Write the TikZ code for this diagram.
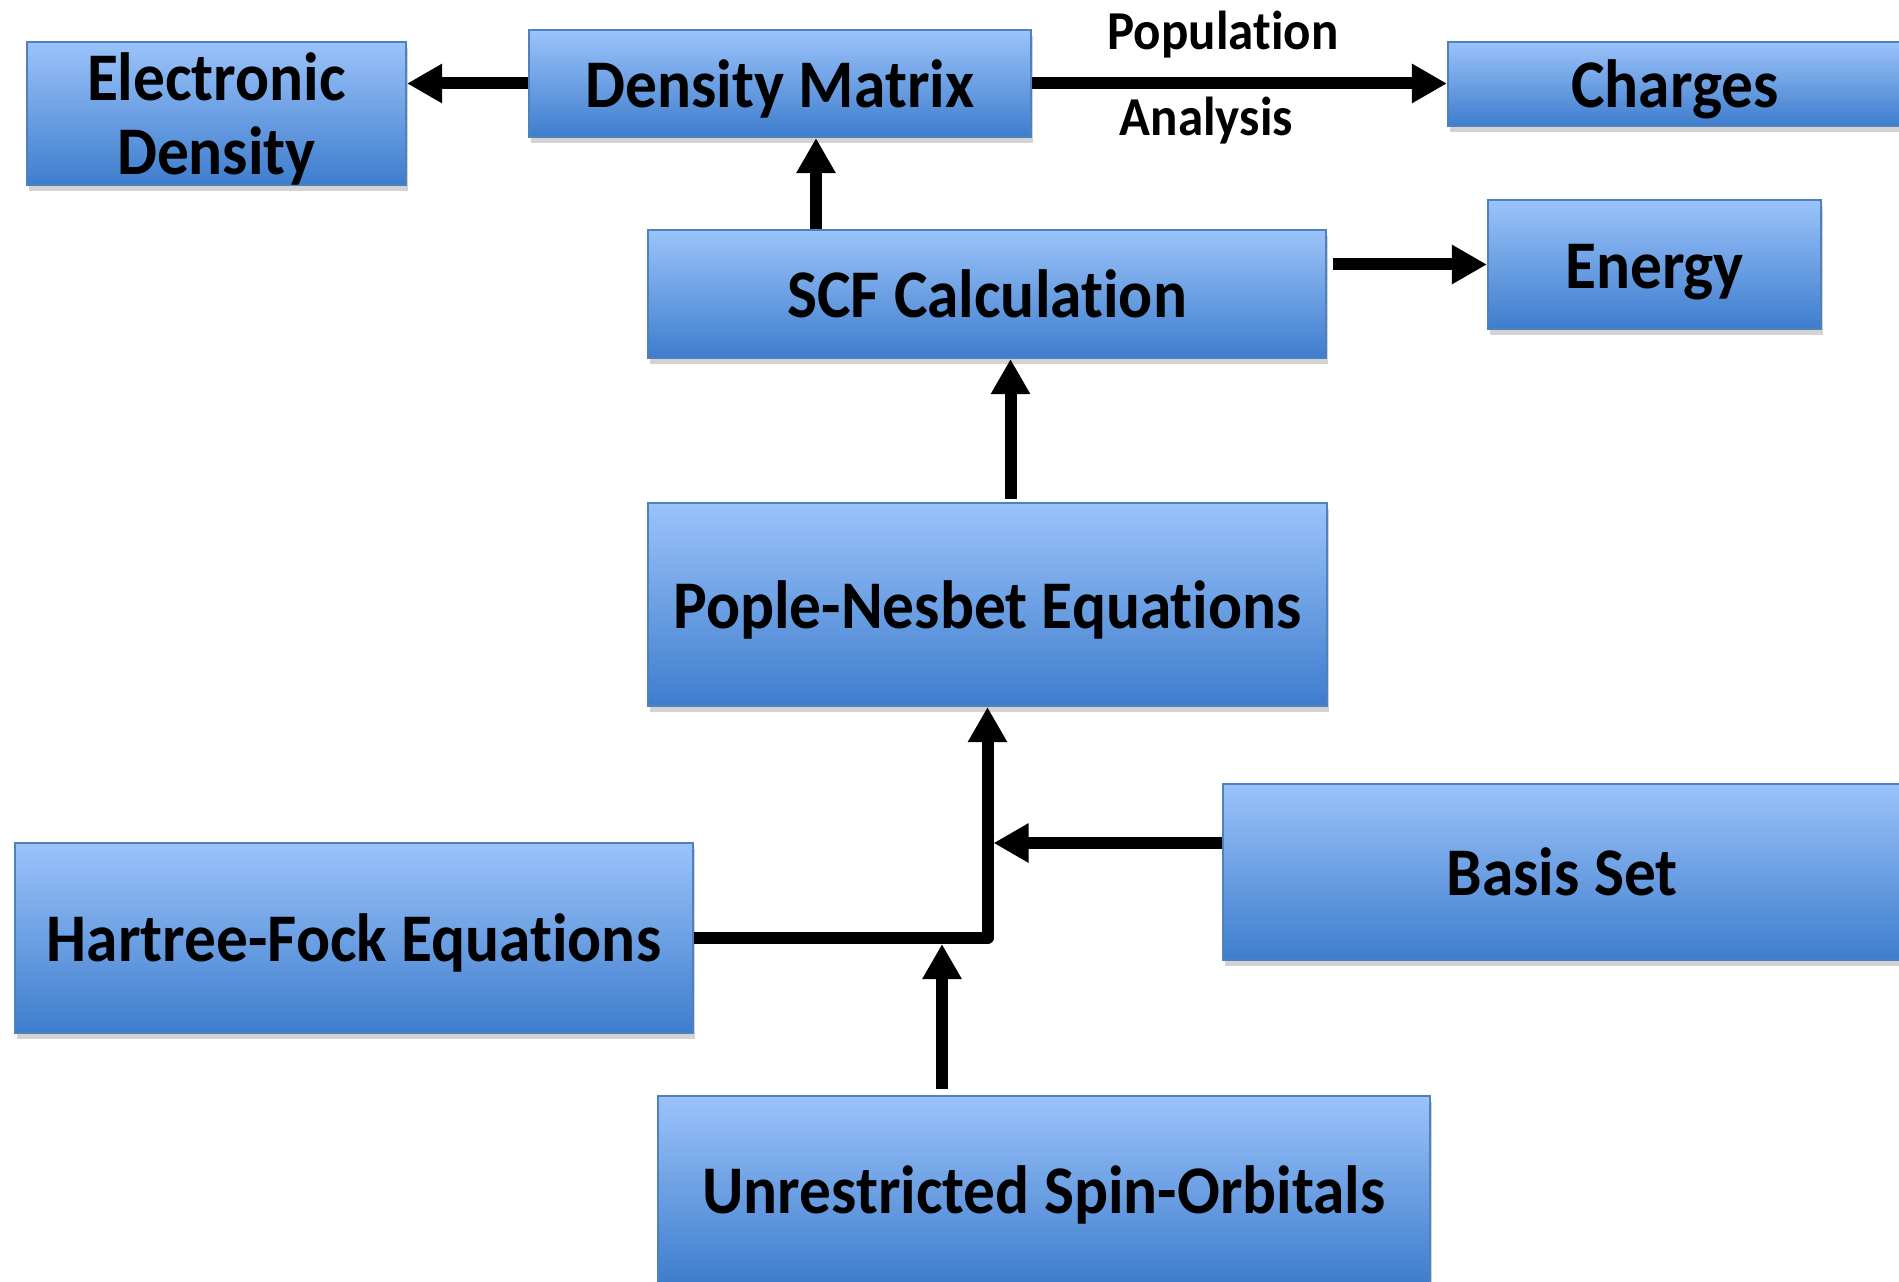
\documentclass[tikz,border=0pt]{standalone}
\usepackage{fontspec}
\setmainfont[FakeStretch=0.93, Ligatures=NoCommon]{Carlito}
\usetikzlibrary{positioning, arrows.meta, shadows}
\definecolor{boxtop}{RGB}{155,195,250}
\definecolor{boxbot}{RGB}{62,125,205}
\definecolor{boxline}{RGB}{79,129,189}
\tikzset{
    bluebox/.style={
        rectangle,
        draw=boxline, % 边框为蓝色
        line width=0.6pt,
        top color=boxtop, % 上浅下深的渐变
        bottom color=boxbot,
        drop shadow={shadow xshift=0.02cm, shadow yshift=-0.06cm, opacity=0.35},
        inner sep=0,
        align=center,
        text height=17pt, % 让字母居中
        text depth=3.5pt,
        font=\bfseries\fontsize{19.4}{21.2}\selectfont
    },
    thickarrow/.style={
        -{Triangle[length=0.35cm, width=0.37cm]},
        line width=0.12cm, % 粗箭头
        line join=round
    },
    arrowlabel/.style={
        font=\bfseries\fontsize{15.6}{18}\selectfont,
        inner sep=0
    }
}

\begin{document}
\begin{tikzpicture}
    \useasboundingbox (0,0) rectangle (18.99,-12.82);
    % 方框
    \node[bluebox, minimum width=3.79cm, minimum height=1.43cm, text height=34.8pt, text depth=0pt] (ed) at (2.165,-1.135) {Electronic\\Density};
    \node[bluebox, minimum width=5.02cm, minimum height=1.07cm] (dm) at (7.80,-0.835) {Density Matrix};
    \node[bluebox, minimum width=4.54cm, minimum height=0.84cm] (ch) at (16.75,-0.84) {Charges};
    \node[bluebox, minimum width=6.78cm, minimum height=1.28cm] (scf) at (9.87,-2.94) {SCF Calculation};
    \node[bluebox, minimum width=3.33cm, minimum height=1.29cm] (en) at (16.545,-2.645) {Energy};
    \node[bluebox, minimum width=6.79cm, minimum height=2.03cm] (pn) at (9.875,-6.045) {Pople-Nesbet Equations};
    \node[bluebox, minimum width=6.78cm, minimum height=1.76cm] (bs) at (15.62,-8.72) {Basis Set};
    \node[bluebox, minimum width=6.78cm, minimum height=1.90cm] (hf) at (3.54,-9.38) {Hartree-Fock Equations};
    \node[bluebox, minimum width=7.72cm, minimum height=1.88cm] (us) at (10.44,-11.90) {Unrestricted Spin-Orbitals};

    % 箭头
    \draw[thickarrow] (dm.west) -- (dm.west -| ed.east);
    \draw[thickarrow] (dm.east)
        -- node[arrowlabel, pos=0.46, yshift=0.49cm] {Population}
           node[arrowlabel, pos=0.42, yshift=-0.37cm] {Analysis}
        (dm.east -| ch.west);
    \draw[thickarrow] ([xshift=0.36cm]dm.south |- scf.north) -- ([xshift=0.36cm]dm.south);
    \draw[thickarrow] ([xshift=0.06cm]scf.east |- en.west) -- (en.west);
    \draw[thickarrow] ([xshift=0.23cm, yshift=0.03cm]pn.north) -- ([xshift=0.23cm]pn.north |- scf.south);
    \draw[thickarrow] (hf.east) -| (pn.south);
    \draw[thickarrow] ([yshift=0.29cm]bs.west) -- ([xshift=0.06cm, yshift=0.29cm]pn.south |- bs.west);
    \draw[thickarrow] ([xshift=-1.02cm, yshift=0.06cm]us.north) -- ([xshift=-1.02cm, yshift=-0.06cm]us.north |- hf.east);
\end{tikzpicture}
\end{document}
